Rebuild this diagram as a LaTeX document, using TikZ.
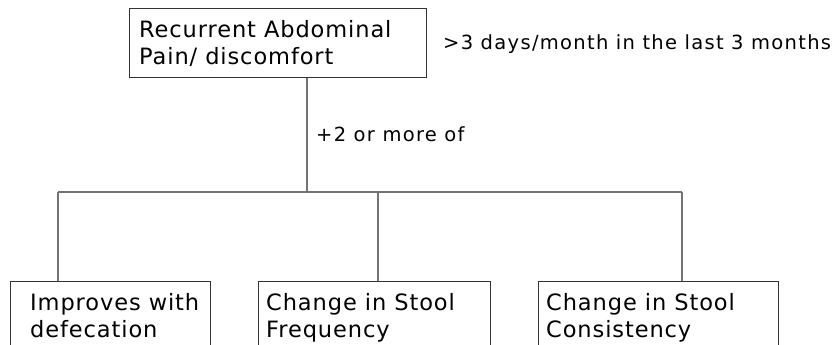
\documentclass[tikz,border=0pt]{standalone}
\usepackage{fontspec}
\setmainfont{DejaVu Sans}
\newfontfamily\boxfont[LetterSpace=4]{DejaVu Sans}
\newfontfamily\notefont[LetterSpace=6.7]{DejaVu Sans}
\begin{document}
\begin{tikzpicture}[x=1pt,y=-1pt,
  box/.style={draw=black!80, line width=1pt, inner sep=0pt, anchor=north west},
  boxtext/.style={anchor=base west, inner sep=0pt, font=\boxfont\fontsize{22.5}{27}\selectfont},
  note/.style={anchor=base west, inner sep=0pt, font=\notefont\fontsize{19.5}{24}\selectfont},
  conn/.style={draw=black!55, line width=1.2pt}]
\useasboundingbox (0,0) rectangle (838,345);
\clip (0,0) rectangle (838,345);
% boxes
\node[box, minimum width=297pt, minimum height=69pt] (top) at (129,8) {};
\node[box, minimum width=200pt, minimum height=120pt] (b1) at (10,281) {};
\node[box, minimum width=232pt, minimum height=120pt] (b2) at (258,281) {};
\node[box, minimum width=240pt, minimum height=120pt] (b3) at (538,281) {};
% texts
\node[boxtext] (ttop) at (139,37.5) {\parbox[t]{280pt}{Recurrent Abdominal\\Pain/ discomfort}};
\node[boxtext] (t1) at (30,310) {\parbox[t]{180pt}{Improves with\\defecation}};
\node[boxtext] (t2) at (266,310) {\parbox[t]{220pt}{Change in Stool\\Frequency}};
\node[boxtext] (t3) at (546,310) {\parbox[t]{220pt}{Change in Stool\\Consistency}};
\node[note] (crit) at (443,50) {>3 days/month in the last 3 months};
\node[note] (plus) at (316,141) {+2 or more of};
% connectors
\coordinate (j) at (307,192);
\coordinate (jl) at (58,192);
\coordinate (jm) at (378,192);
\coordinate (jr) at (682,192);
\draw[conn] (top.south -| j) -- (j);
\draw[conn] (jl) -- (jr);
\draw[conn] (jl) -- (jl |- b1.north);
\draw[conn] (jm) -- (jm |- b2.north);
\draw[conn] (jr) -- (jr |- b3.north);
\end{tikzpicture}
\end{document}
